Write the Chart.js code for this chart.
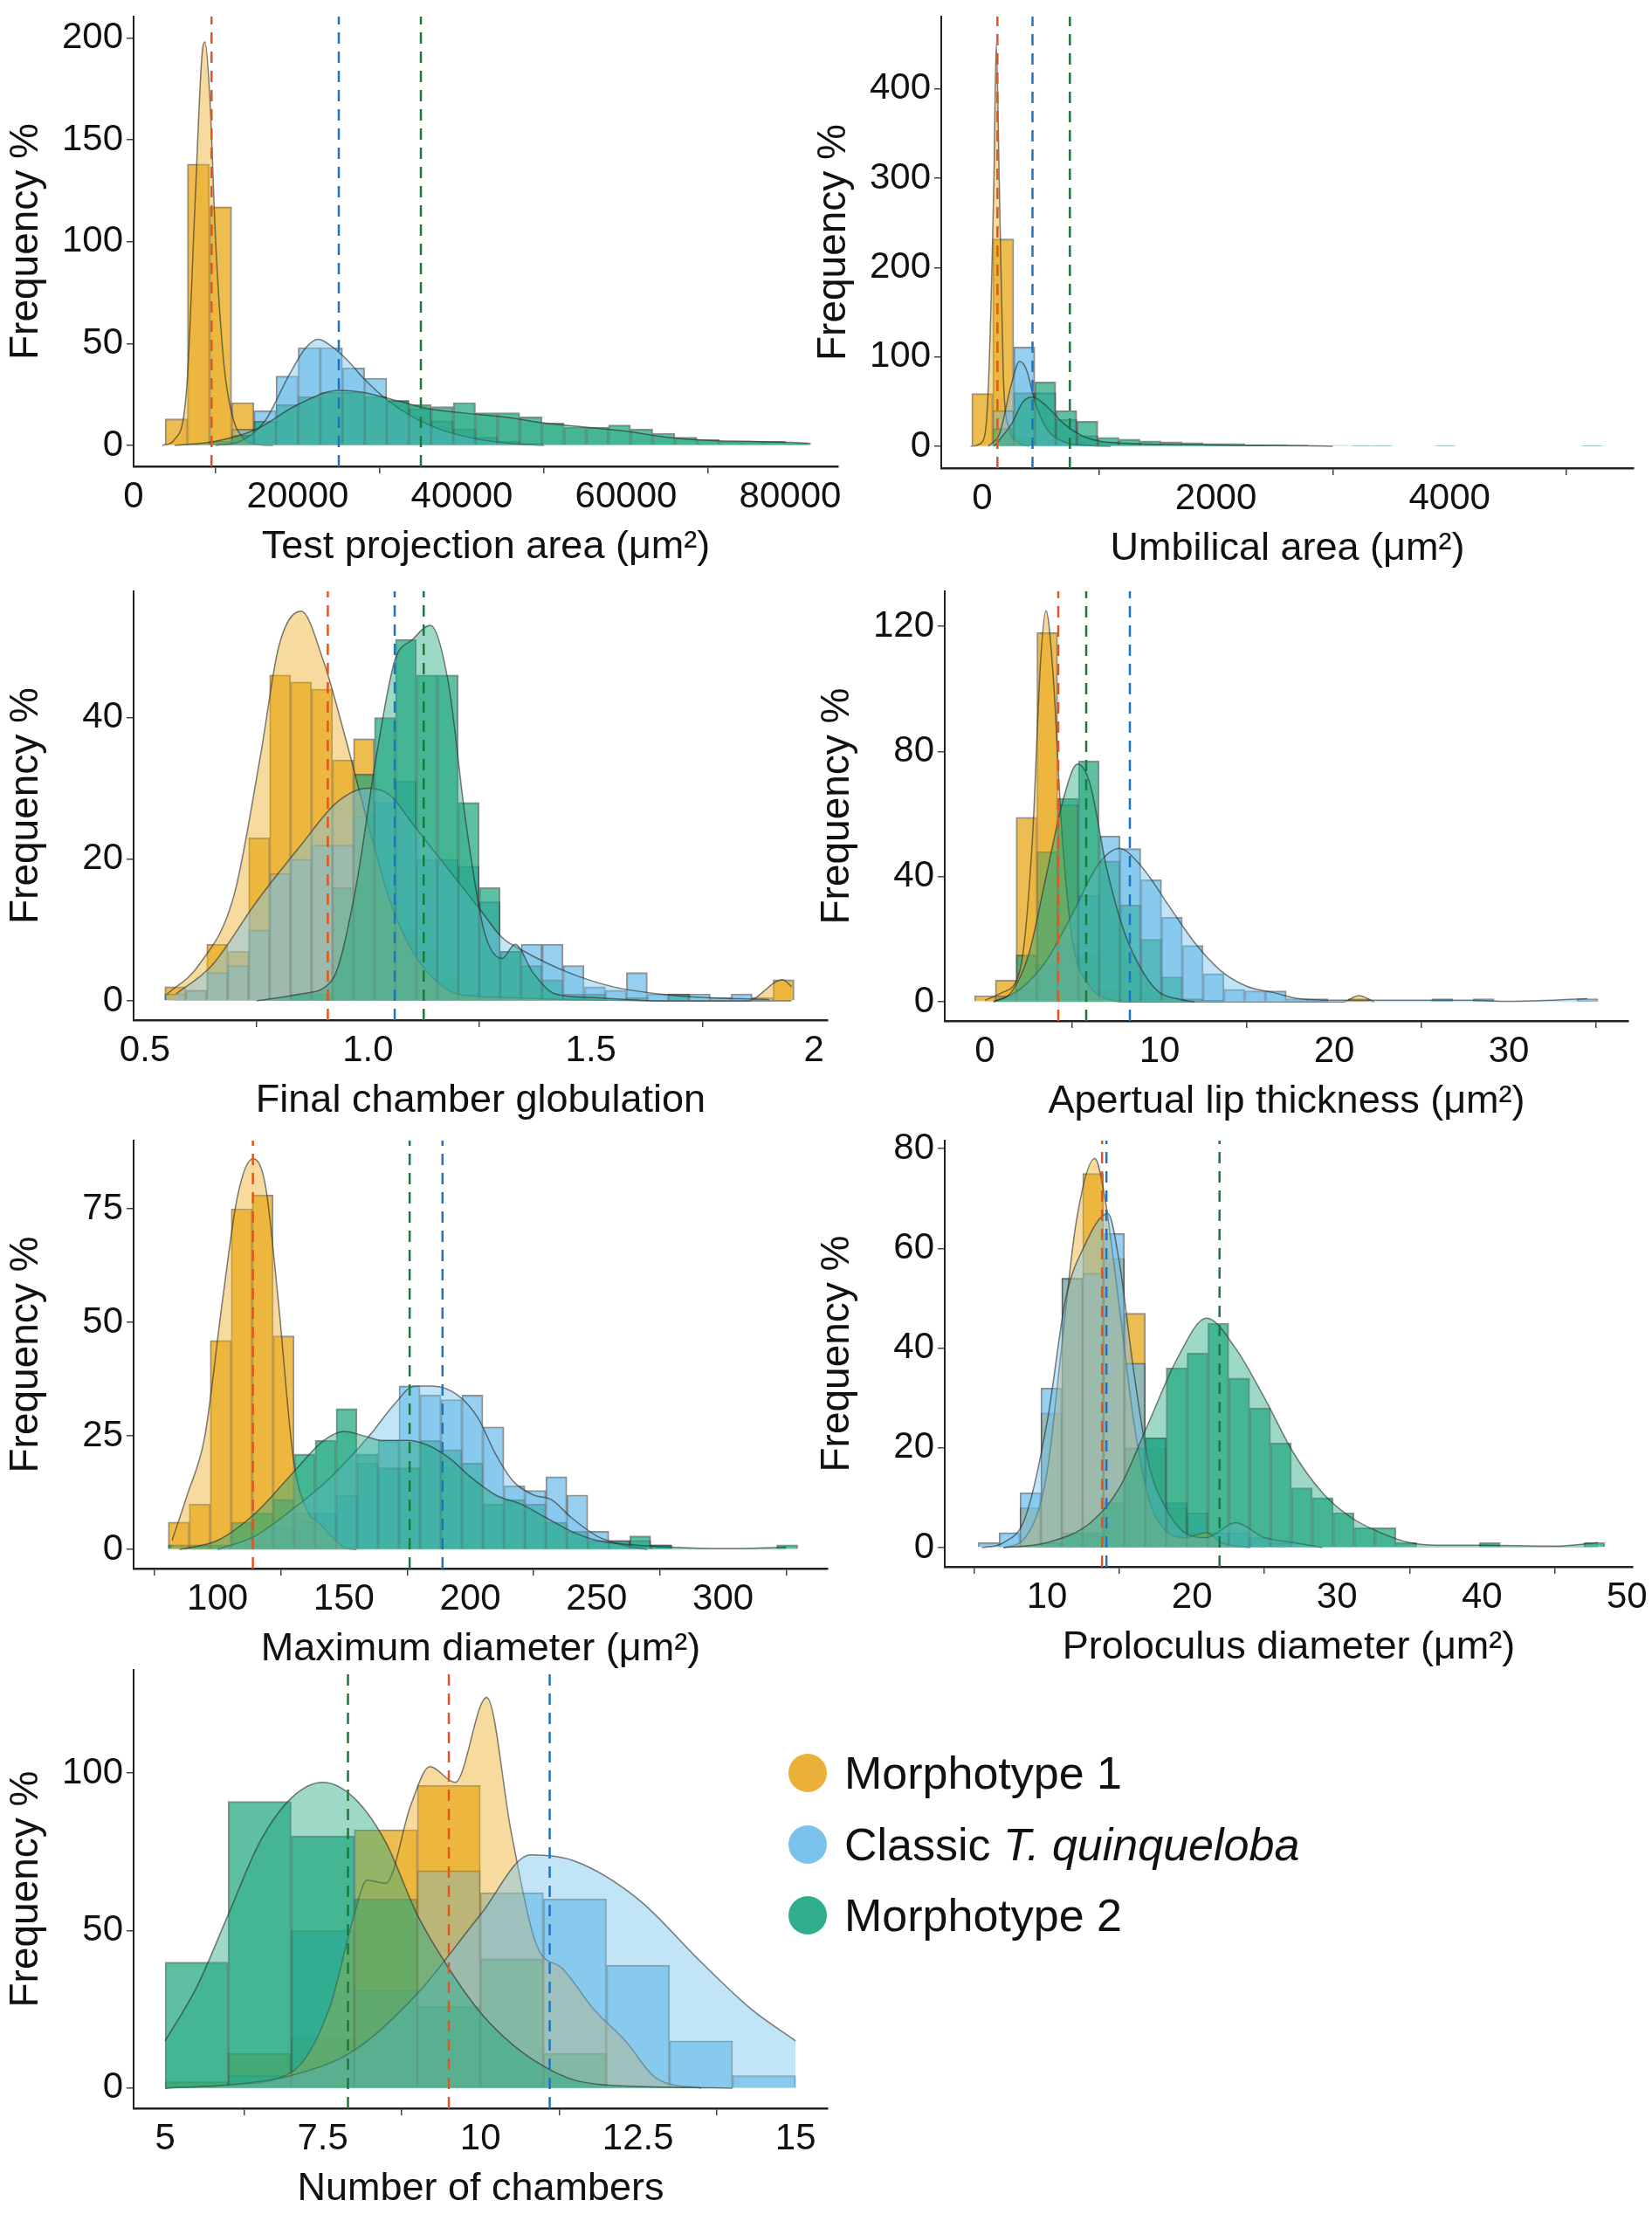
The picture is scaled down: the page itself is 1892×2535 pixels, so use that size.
<!DOCTYPE html>
<html><head><meta charset="utf-8">
<script src="https://cdn.jsdelivr.net/npm/chart.js@4"></script>
<style>
body{margin:0;background:#fff;width:1892px;height:2535px;position:relative;overflow:hidden;font-family:"Liberation Sans",Arial,sans-serif}
canvas{position:absolute}
.lg{position:absolute;left:903px;display:flex;align-items:center;font-size:52px;color:#111}
.lg span.c{width:44px;height:44px;border-radius:50%;display:inline-block;margin-right:20px}
</style></head><body>
<div class="lg" style="top:2000px"><span class="c" style="background:#EAB03A"></span>Morphotype 1</div>
<div class="lg" style="top:2082px"><span class="c" style="background:#79C2EC"></span>Classic&nbsp;<i>T. quinqueloba</i></div>
<div class="lg" style="top:2163px"><span class="c" style="background:#2FAE8C"></span>Morphotype 2</div>
<script>
// ---------- Panel 1: Test projection area ----------
const p1Bins=[5200,7900,10600,13300,16000,18700,21400,24100,26800,29500,32200,34900,37600,40300,43000,45700,48400,51100,53800,56500,59200,61900,64600,67300,70000,72700,75400,78100,80800];
const p1Orange=[13,138,117,21,0,0,0,0,0,0,0,0,0,0,0,0,0,0,0,0,0,0,0,0,0,0,0,0,0];
const p1Blue=[0,0,2,8,17,34,48,48,38,33,22,18,12,8,4,2,1,0,0,0,0,0,0,0,0,0,0,0,0];
const p1Green=[0,0,1,5,12,20,24,26,26,24,22,20,19,21,16,16,14,11,9,9,10,8,6,4,3,2,2,2,1];
const p1DensOrange=[[3500,0],[5000,3],[6500,30],[7500,120],[8300,190],[8700,198],[9300,170],[10000,100],[11000,40],[12000,15],[13500,3],[15000,0.5],[17000,0]];
const p1DensBlue=[[10000,0],[13000,2],[16000,12],[19000,35],[21000,48],[22500,52],[24000,49],[26000,42],[28000,33],[31000,22],[34000,14],[38000,7],[42000,3],[46000,1],[50000,0]];
const p1DensGreen=[[5000,0],[10000,2],[15000,8],[20000,20],[25000,27],[28000,26],[32000,22],[36000,18],[40000,16],[45000,14],[50000,11],[55000,9],[60000,7],[65000,4],[70000,2.5],[75000,2],[80000,1.5],[82500,1]];
const p1Means=[9500,25000,35000];
const p1XTicks=[0,20000,40000,60000,80000], p1XLabels=["0","20000","40000","60000","80000"];
const p1YTicks=[0,50,100,150,200];

// ---------- Panel 2: Umbilical area ----------
const p2Bins=[0,180,360,540,720,900,1080,1260,1440,1620,1800,1980,2160,2340,2520,2700,2880,3060,3240,3420,3600,3780,3960,4140,4320,4500,4680,4860,5040,5220];
const p2Orange=[59,232,10,0,0,0,0,0,0,0,0,0,0,0,0,0,0,0,0,0,0,0,0,0,0,0,0,0,0,0];
const p2Blue=[0,40,111,60,30,12,5,3,2,1,1,0.5,0.5,0.5,0,0,0,0,0,0,0,0,0,0,0,0,0,0,0,0];
const p2Green=[0,20,60,72,40,28,10,8,6,5,4,3,3,2,2,1.5,1,1,0.5,0.5,0,0,0.5,0,0,0,0,0,0,0.5];
const p2DensOrange=[[-100,0],[0,5],[50,60],[100,300],[120,450],[145,300],[180,80],[230,20],[300,5],[400,0]];
const p2DensBlue=[[50,0],[150,15],[250,70],[320,95],[380,85],[450,50],[550,20],[700,5],[900,1],[1100,0]];
const p2DensGreen=[[100,0],[250,25],[350,50],[430,55],[550,45],[700,25],[850,12],[1000,6],[1300,3],[1700,2],[2200,1],[2800,0.5],[3000,0]];
const p2Means=[130,430,750];
const p2XTicks=[0,2000,4000], p2XLabels=["0","2000","4000"];
const p2YTicks=[0,100,200,300,400];

// ---------- Panel 3: Final chamber globulation ----------
const p3Bins=[0.568,0.615,0.662,0.709,0.756,0.803,0.850,0.897,0.944,0.991,1.038,1.085,1.132,1.179,1.226,1.273,1.320,1.367,1.414,1.461,1.509,1.556,1.603,1.650,1.697,1.744,1.791,1.838,1.885,1.932];
const p3Orange=[2,1.5,8,7,23,46,45,44,34,37,14,10,7,3,1,0.5,0,0,0,0,0,0,0,0,0,0,0,0,0,3];
const p3Blue=[1,1.5,4,5,10,18,20,22,22,26,28,31,20,20,19,14,7,8,8,5,2,1.5,4,1,1,1,0.5,1,0.5,0];
const p3Green=[0,0,0,0,0,0,1,1,16,32,40,51,46,46,28,16,7,5,3,1,1,0,0.5,0,1,0,0,0,0,0];
const p3DensOrange=[[0.55,1],[0.62,5],[0.7,15],[0.76,35],[0.8,50],[0.85,55],[0.9,48],[0.95,37],[1.0,25],[1.05,14],[1.1,7],[1.15,3],[1.2,1],[1.3,0.5],[1.45,0.2],[1.85,0],[1.93,3],[1.95,2]];
const p3DensBlue=[[0.57,1],[0.65,5],[0.75,14],[0.85,22],[0.93,28],[1.0,30],[1.05,29],[1.1,25],[1.15,21],[1.2,17],[1.25,13],[1.3,9],[1.35,7],[1.45,4],[1.55,2],[1.65,1],[1.75,0.5],[1.9,0.2]];
const p3DensGreen=[[0.75,0],[0.85,1],[0.92,3],[0.97,15],[1.02,35],[1.06,48],[1.1,51],[1.14,53],[1.18,45],[1.22,25],[1.26,10],[1.3,6],[1.33,8],[1.37,4],[1.42,1],[1.5,0.5],[1.65,0],[1.95,0]];
const p3Means=[0.91,1.06,1.125];
const p3XTicks=[0.5,1,1.5,2], p3XLabels=["0.5","1.0","1.5","2"];
const p3YTicks=[0,20,40];

// ---------- Panel 4: Apertual lip thickness ----------
const p4Bins=[0,1.19,2.38,3.57,4.76,5.95,7.14,8.33,9.52,10.71,11.9,13.09,14.28,15.47,16.66,17.85,19.04,20.23,21.42,22.61,23.8,24.99,26.18,27.37,28.56,29.75,30.94,32.13,33.32,34.51];
const p4Orange=[2,7,59,118,63,15,4,1,0,0,0,0,0,0,0,0,0,0,1,0,0,0,0,0,0,0,0,0,0,0];
const p4Blue=[0,2,4,12,18,34,53,49,39,27,18,9,4,3.5,3.5,1,1,0,0,0,0,0,1,0,1,0,0,0,0,1];
const p4Green=[0,2,15,48,65,77,45,31,20,8,1,0.5,0,0,0,0,0,0,0,0,0,0,0,0,0,0,0,0,0,0];
const p4DensOrange=[[0,0.5],[1,3],[2,10],[2.7,50],[3.2,110],[3.5,125],[3.9,105],[4.4,55],[5,20],[6,5],[7,1],[8,0],[20.5,0],[21.4,2],[22.3,0]];
const p4DensBlue=[[0.5,0],[2,4],[3.5,13],[5,28],[6.5,44],[7.7,49],[9,43],[10.5,31],[12,19],[13.5,10],[15,5],[16.5,3],[18,1],[20,0.5],[25,0.5],[28,0.5],[30,0.2],[34.5,1]];
const p4DensGreen=[[0.5,0],[1.5,3],[2.5,15],[3.5,40],[4.5,65],[5.3,76],[6,70],[7,42],[8,22],[9,10],[10,3],[11,1],[12,0]];
const p4Means=[4.2,8.3,5.8];
const p4XTicks=[0,10,20,30], p4XLabels=["0","10","20","30"];
const p4YTicks=[0,40,80,120];

// ---------- Panel 5: Maximum diameter ----------
const p5Bins=[84.65,92.95,101.25,109.55,117.85,126.15,134.45,142.75,151.05,159.35,167.65,175.95,184.25,192.55,200.85,209.15,217.45,225.75,234.05,242.35,250.65,258.95,267.25,275.55,283.85,292.15,300.45,308.75,317.05,325.35];
const p5Orange=[6,10,46,75,78,47,8,2,0,0,0,0,0,0,0,0,0,0,0,0,0,0,0,0,0,0,0,0,0,0];
const p5Blue=[0,0,0,0,1,5,6,8,12,19,24,36,34,33,34,27,14,13,16,12,4,2,2,1,0,0,0,0,0,0];
const p5Green=[1,1,1,6,8,11,21,24,31,21,18,18,24,22,19,10,11,10,6,4,2,2,3,1,0,0,0,0,0,1];
const p5DensOrange=[[82,2],[88,12],[95,25],[102,55],[108,78],[114,86],[119,80],[124,55],[130,20],[136,8],[140,6],[145,3],[150,0.5],[155,0]];
const p5DensBlue=[[100,0],[115,3],[130,9],[145,16],[160,25],[170,32],[178,36],[185,36],[195,34],[203,29],[210,21],[217,15],[225,12],[232,11],[240,7],[250,3],[260,1],[270,0]];
const p5DensGreen=[[85,0],[100,2],[115,8],[130,17],[142,24],[150,26],[158,25],[165,24],[175,24],[183,23],[192,20],[200,16],[210,12],[220,10],[230,7],[240,4],[250,2],[265,1],[280,0.5],[300,0.2],[325,0.5]];
const p5Means=[114,189,176];
const p5XTicks=[100,150,200,250,300], p5XLabels=["100","150","200","250","300"];
const p5YTicks=[0,25,50,75];

// ---------- Panel 6: Proloculus diameter ----------
const p6Bins=[5.98,7.42,8.86,10.30,11.74,13.18,14.62,16.06,17.50,18.94,20.38,21.82,23.26,24.70,26.14,27.58,29.02,30.46,31.90,33.34,34.78,36.22,37.66,39.10,40.54,41.98,43.42,44.86,46.30,47.74];
const p6Orange=[0,0,8,27,54,75,58,47,20,8,3,1,0,0,0,0,0,0,0,0,0,0,0,0,0,0,0,0,0,0];
const p6Blue=[1,3,11,32,54,55,63,37,22,9,7,3,3,2,1,0,0,0,0,0,0,0,0,0,0,0,0,0,0,0];
const p6Green=[0,0,0,1,3,3,9,20,22,36,39,45,34,28,21,12,10,7,4,4,1,0,0,0,1,0,0,0,0,1];
const p6DensOrange=[[7,0],[8.5,2],[10,15],[11,40],[12,65],[13.3,78],[14,70],[15,48],[16,25],[17,10],[18,4],[19.5,2],[21,3],[22,1],[24,0]];
const p6DensBlue=[[5.5,0],[7,1],[8.5,6],[10,25],[11.3,50],[12.5,60],[14.2,67],[15,57],[16,35],[17,17],[18,9],[19.5,3],[21,2],[23,5],[25,2],[27,1],[29,0]];
const p6DensGreen=[[7,0],[10,1],[13,5],[15,12],[17,25],[19,38],[21,46],[23,40],[25,30],[27,19],[29,11],[31,6],[33,3],[35,1],[37,0.5],[40,0.5],[45,0.3],[48,1]];
const p6Means=[13.8,14.1,21.9];
const p6XTicks=[10,20,30,40,50], p6XLabels=["10","20","30","40","50"];
const p6YTicks=[0,20,40,60,80];

// ---------- Panel 7: Number of chambers ----------
const p7Bins=[5.5,6.5,7.5,8.5,9.5,10.5,11.5,12.5,13.5,14.5];
const p7Orange=[2,11,16,82,96,3,0,0,0,0];
const p7Blue=[0,4,50,31,69,62,60,39,15,4];
const p7Green=[40,91,80,60,26,41,11,0,0,0];
const p7DensOrange=[[5,0],[6,1],[7,5],[7.6,25],[8,55],[8.2,66],[8.5,65],[8.9,90],[9.2,102],[9.6,97],[10.1,124],[10.5,80],[10.9,45],[11.3,38],[11.8,25],[12.3,15],[12.8,3],[13.5,0]];
const p7DensBlue=[[5,0],[6,1],[7,4],[8,12],[9,30],[10,55],[10.8,74],[11.5,72],[12.5,60],[13.5,40],[14.3,25],[15,15]];
const p7DensGreen=[[5,15],[5.5,32],[6,55],[6.5,78],[7,92],[7.5,97],[8,92],[8.5,78],[9,55],[9.5,38],[10,24],[10.5,14],[11,7],[11.5,2.5],[12,1],[13,0.3],[14,0]];
const p7Means=[9.5,11.1,7.9];
const p7XTicks=[5,7.5,10,12.5,15], p7XLabels=["5","7.5","10","12.5","15"];
const p7YTicks=[0,50,100];

const FONT='"Liberation Sans", Arial, sans-serif';
const BAR=['rgba(232,163,14,0.72)','rgba(100,184,232,0.68)','rgba(18,160,120,0.68)'];
const DEN=['rgba(238,176,40,0.45)','rgba(120,195,238,0.45)','rgba(40,170,130,0.45)'];
const MEAN=['#E5541B','#1C74C2','#1B7A3A'];

function panel(o){
  const YW=150, XH=120, PT=40, PR=60;
  const c=document.createElement('canvas');
  const w=YW+(o.R-o.L)+PR, h=PT+(o.B-o.T)+XH;
  c.width=w;c.height=h;c.style.left=(o.L-YW)+'px';c.style.top=(o.T-PT)+'px';
  c.style.width=w+'px';c.style.height=h+'px';
  document.body.appendChild(c);
  const sets=[];
  const cols=[o.orange,o.blue,o.green];
  cols.forEach((arr,i)=>sets.push({type:'bar',data:o.bins.map((b,k)=>({x:b,y:arr[k]})),backgroundColor:BAR[i],
    borderColor:'rgba(50,50,50,0.55)',borderWidth:1.5,barPercentage:1,categoryPercentage:1,grouped:false,order:20-i}));
  [o.dO,o.dB,o.dG].forEach((arr,i)=>sets.push({type:'line',data:arr.map(p=>({x:p[0],y:p[1]})),backgroundColor:DEN[i],
    borderColor:'rgba(40,40,40,0.6)',borderWidth:1.5,fill:'origin',pointRadius:0,cubicInterpolationMode:'monotone',order:10-i}));
  o.means.forEach((m,i)=>sets.push({type:'line',data:[{x:m,y:o.ymin},{x:m,y:o.ymax}],borderColor:MEAN[i],borderWidth:2.5,
    borderDash:[13,9],pointRadius:0,fill:false,order:3-i}));
  new Chart(c,{type:'bar',data:{datasets:sets},options:{
    responsive:false,animation:false,devicePixelRatio:1,
    layout:{padding:{left:0,right:PR,top:PT,bottom:0}},
    plugins:{legend:{display:false},tooltip:{enabled:false}},
    scales:{
      x:{type:'linear',offset:false,min:o.xmin,max:o.xmax,
        afterBuildTicks:s=>{s.ticks=o.xt.map(v=>({value:v}));},
        afterFit:s=>{s.height=XH;},
        grid:{display:true,drawOnChartArea:false,drawTicks:true,tickLength:8,color:'#444',lineWidth:1.5},
        border:{display:true,color:'#222',width:2.5},
        ticks:{font:{family:FONT,size:42},color:'#111',padding:2,maxRotation:0,autoSkip:false,callback:(v,i)=>o.xl[i]},
        title:{display:true,text:o.title,font:{family:FONT,size:45},color:'#111',padding:{top:0,bottom:0}}},
      y:{type:'linear',min:o.ymin,max:o.ymax,
        afterBuildTicks:s=>{s.ticks=o.yt.map(v=>({value:v}));},
        afterFit:s=>{s.width=YW;},
        grid:{display:true,drawOnChartArea:false,drawTicks:true,tickLength:8,color:'#444',lineWidth:1.5},
        border:{display:true,color:'#222',width:2},
        ticks:{font:{family:FONT,size:42},color:'#111',padding:4,autoSkip:false,callback:(v)=>String(v)},
        title:{display:true,text:'Frequency %',font:{family:FONT,size:46},color:'#111',padding:{top:0,bottom:8}}}
    }}});
}
panel({L:153,R:960,T:19,B:534,xmin:0,xmax:85850,ymin:-10.3,ymax:210.4,xt:p1XTicks,xl:p1XLabels,yt:p1YTicks,title:'Test projection area (μm²)',
  bins:p1Bins,orange:p1Orange,blue:p1Blue,green:p1Green,dO:p1DensOrange,dB:p1DensBlue,dG:p1DensGreen,means:p1Means});
panel({L:1078,R:1871,T:19,B:536,xmin:-351,xmax:5576,ymin:-24.4,ymax:480.7,xt:p2XTicks,xl:p2XLabels,yt:p2YTicks,title:'Umbilical area (μm²)',
  bins:p2Bins,orange:p2Orange,blue:p2Blue,green:p2Green,dO:p2DensOrange,dB:p2DensBlue,dG:p2DensGreen,means:p2Means});
panel({L:153,R:948,T:677,B:1168,xmin:0.4745,xmax:2.031,ymin:-2.7,ymax:57.8,xt:p3XTicks,xl:p3XLabels,yt:p3YTicks,title:'Final chamber globulation',
  bins:p3Bins,orange:p3Orange,blue:p3Blue,green:p3Green,dO:p3DensOrange,dB:p3DensBlue,dG:p3DensGreen,means:p3Means});
panel({L:1082,R:1865,T:677,B:1169,xmin:-2.3,xmax:36.85,ymin:-6.1,ymax:131.2,xt:p4XTicks,xl:p4XLabels,yt:p4YTicks,title:'Apertual lip thickness (μm²)',
  bins:p4Bins,orange:p4Orange,blue:p4Blue,green:p4Green,dO:p4DensOrange,dB:p4DensBlue,dG:p4DensGreen,means:p4Means});
panel({L:153,R:948,T:1306,B:1796,xmin:66.8,xmax:341.4,ymin:-4.2,ymax:90,xt:p5XTicks,xl:p5XLabels,yt:p5YTicks,title:'Maximum diameter (μm²)',
  bins:p5Bins,orange:p5Orange,blue:p5Blue,green:p5Green,dO:p5DensOrange,dB:p5DensBlue,dG:p5DensGreen,means:p5Means});
panel({L:1082,R:1870,T:1306,B:1794,xmin:2.95,xmax:50.4,ymin:-3.85,ymax:81.6,xt:p6XTicks,xl:p6XLabels,yt:p6YTicks,title:'Proloculus diameter (μm²)',
  bins:p6Bins,orange:p6Orange,blue:p6Blue,green:p6Green,dO:p6DensOrange,dB:p6DensBlue,dG:p6DensGreen,means:p6Means});
panel({L:153,R:948,T:1912,B:2414,xmin:4.5,xmax:15.51,ymin:-6.4,ymax:132.7,xt:p7XTicks,xl:p7XLabels,yt:p7YTicks,title:'Number of chambers',
  bins:p7Bins,orange:p7Orange,blue:p7Blue,green:p7Green,dO:p7DensOrange,dB:p7DensBlue,dG:p7DensGreen,means:p7Means});
</script></body></html>
